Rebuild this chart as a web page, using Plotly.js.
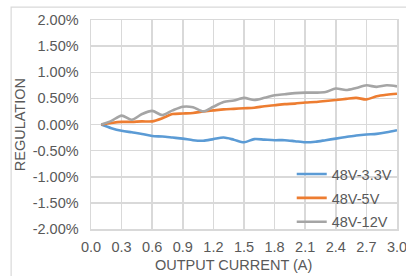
<!DOCTYPE html>
<html>
<head>
<meta charset="utf-8">
<script src="https://cdn.plot.ly/plotly-3.0.1.min.js"></script>
<style>html,body{margin:0;padding:0;background:#fff;}#chart{width:406px;height:276px;}</style>
</head>
<body>
<div id="chart"></div>
<script>
const current = [0.1,0.2,0.3,0.4,0.5,0.6,0.7,0.8,0.9,1.0,1.1,1.2,1.3,1.4,1.5,1.6,1.7,1.8,1.9,2.0,2.1,2.2,2.3,2.4,2.5,2.6,2.7,2.8,2.9,3.0];
const reg33 = [0,-0.07,-0.12,-0.15,-0.18,-0.22,-0.23,-0.25,-0.27,-0.30,-0.31,-0.28,-0.25,-0.29,-0.34,-0.28,-0.29,-0.30,-0.30,-0.32,-0.34,-0.33,-0.30,-0.27,-0.24,-0.21,-0.19,-0.18,-0.15,-0.11];
const reg5 = [0,0.03,0.05,0.05,0.06,0.06,0.12,0.20,0.21,0.22,0.25,0.27,0.29,0.30,0.31,0.32,0.35,0.37,0.39,0.40,0.42,0.43,0.45,0.47,0.49,0.51,0.48,0.54,0.57,0.59];
const reg12 = [0,0.07,0.17,0.09,0.20,0.26,0.18,0.27,0.34,0.33,0.25,0.34,0.43,0.46,0.51,0.47,0.51,0.56,0.58,0.60,0.61,0.61,0.62,0.69,0.66,0.70,0.75,0.72,0.75,0.73];
const seriesNames = ['48V-3.3V','48V-5V','48V-12V'];
const xTickVals = [0,0.3,0.6,0.9,1.2,1.5,1.8,2.1,2.4,2.7,3.0];
const xTickText = ['0.0','0.3','0.6','0.9','1.2','1.5','1.8','2.1','2.4','2.7','3.0'];
const yTickVals = [-2,-1.5,-1,-0.5,0,0.5,1,1.5,2];
const yTickText = ['-2.00%','-1.50%','-1.00%','-0.50%','0.00%','0.50%','1.00%','1.50%','2.00%'];

const colors = ['#5B9BD5','#ED7D31','#A5A5A5'];
const ys = [reg33, reg5, reg12];
const font = {family:'"Liberation Sans", Arial, sans-serif', size:14.5, color:'#595959'};

const data = ys.map((y,i)=>({
  x: current, y: y, name: seriesNames[i], type:'scatter', mode:'lines',
  legendgroup: 'g'+i,
  line:{color:colors[i], width:2.6, shape:'spline', smoothing:0.8}
}));

const layout = {
  width:406, height:276,
  margin:{l:91, r:9, t:20, b:47},
  paper_bgcolor:'#fff', plot_bgcolor:'#fff',
  font: font,
  showlegend:true,
  legend:{x:0.656, xanchor:'left', y:0.339, yanchor:'top', bgcolor:'rgba(0,0,0,0)',
          font:font, tracegroupgap:2, traceorder:'grouped'},
  xaxis:{range:[0,3], tickmode:'array', tickvals:xTickVals, ticktext:xTickText, showgrid:true,
         gridcolor:'#D9D9D9', gridwidth:1.5, zeroline:false, showline:true, mirror:true,
         linecolor:'#D9D9D9', linewidth:1.5, ticks:'', tickfont:font, ticklabelstandoff:4,
         ticklabeloverflow:'allow'},
  yaxis:{range:[-2,2], tickmode:'array', tickvals:yTickVals, ticktext:yTickText, showgrid:true,
         gridcolor:'#D9D9D9', gridwidth:1.5, zeroline:false, showline:true, mirror:true,
         linecolor:'#D9D9D9', linewidth:1.5, ticks:'', tickfont:font, ticklabelstandoff:8,
         ticklabeloverflow:'allow'},
  annotations:[
    {text:'REGULATION', xref:'paper', yref:'paper', x:-0.233, y:0.5, textangle:-90,
     showarrow:false, font:font, xanchor:'center', yanchor:'middle'},
    {text:'OUTPUT CURRENT (A)', xref:'paper', yref:'paper', x:0.465, y:-0.172,
     showarrow:false, font:font, xanchor:'center', yanchor:'middle'}
  ],
  shapes:[
    {type:'rect', xref:'paper', yref:'paper', x0:-0.261, x1:1.06, y0:-0.3, y1:1.062,
     line:{color:'#D9D9D9', width:1.2}, fillcolor:'rgba(0,0,0,0)', layer:'below'}
  ]
};

Plotly.newPlot('chart', data, layout, {displayModeBar:false, staticPlot:true});
</script>
</body>
</html>
